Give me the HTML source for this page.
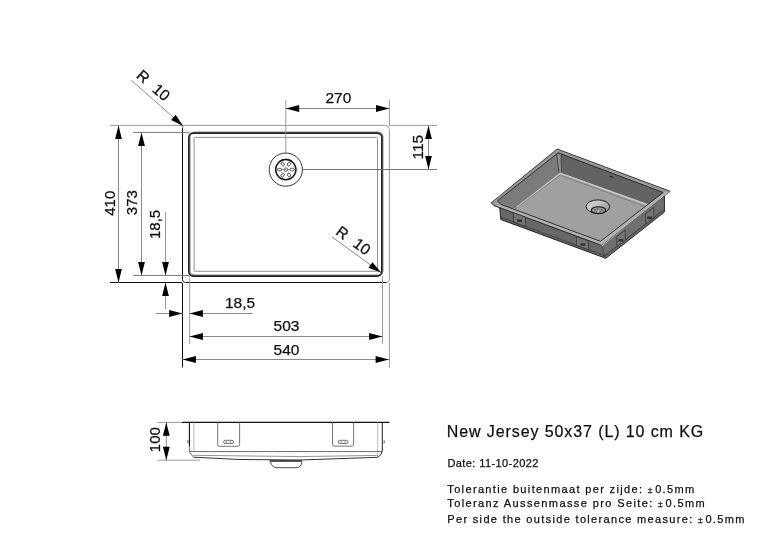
<!DOCTYPE html>
<html><head><meta charset="utf-8">
<style>
html,body{margin:0;padding:0;background:#fff;width:773px;height:537px;overflow:hidden}
svg{display:block;will-change:transform}
text{font-family:"Liberation Sans",sans-serif;fill:#111;stroke:#111;stroke-width:0.25px}
.d{stroke:#8a8a8a;stroke-width:1;fill:none}
.e{stroke:#9a9a9a;stroke-width:1;fill:none}
.k{stroke:#111;stroke-width:1;fill:none}
.a{fill:#000;stroke:none}
</style></head>
<body>
<svg width="773" height="537" viewBox="0 0 773 537">
<defs>
<path id="ar" d="M0 0 L13.4 -3.4 L13.4 3.4 Z"/>
</defs>

<!-- ===== Top view ===== -->
<!-- outer rim -->
<path d="M182.5 128 Q182.5 125.4 185 125.4 H385.4 Q389.4 125.4 389.4 129.4 V279.5 Q389.4 282.5 386.4 282.5" fill="none" stroke="#999" stroke-width="1"/>
<path d="M182.5 128 V279.5 Q182.5 282.5 185.5 282.5 H386.4" fill="none" stroke="#111" stroke-width="1"/>
<!-- bowl thick outline -->
<rect x="189.9" y="132.1" width="192.9" height="143" rx="4.5" fill="none" stroke="#8a8a8a" stroke-width="1.4"/>
<rect x="188.8" y="133.1" width="193" height="143" rx="4.5" fill="none" stroke="#222" stroke-width="1.6"/>
<!-- bowl inner thin -->
<rect x="194.1" y="137.4" width="183.4" height="133.9" rx="1" fill="none" stroke="#8f8f8f" stroke-width="1"/>
<!-- extension lines -->
<path class="e" d="M110 125.4 H182"/>
<path d="M133 132.4 H189.5 M133 275.4 H189.5" stroke="#6a6a6a" stroke-width="0.9" fill="none"/>
<path d="M110 282.5 H182 M182.5 283 V367.5" stroke="#111" fill="none"/>
<path class="e" d="M189.7 276 V344 M382.5 276 V343.6 M389.4 283 V367.8"/>
<path class="e" d="M285.8 100 V152.6 M389.4 100 V125 M389 125.4 H437"/>
<path class="e" d="M165.5 212 V275 M165.5 283 V309.3"/>
<path d="M302.6 169.5 H437" stroke="#666" stroke-width="0.9" fill="none"/>

<!-- dimension lines -->
<path class="d" d="M118.5 125.5 V282.5 M141.5 132.5 V275.5 M155.9 313.5 H182.5 M189.5 313.5 H252.6 M189.5 336.5 H382.5 M182.5 359.5 H389 M285.8 108.5 H389.4 M428.5 125.5 V169.5"/>
<!-- arrows -->
<g class="a">
<use href="#ar" transform="translate(118.5 125.5) rotate(90)"/>
<use href="#ar" transform="translate(118.5 282.5) rotate(-90)"/>
<use href="#ar" transform="translate(141.5 132.5) rotate(90)"/>
<use href="#ar" transform="translate(141.5 275.5) rotate(-90)"/>
<use href="#ar" transform="translate(165.5 275.5) rotate(-90)"/>
<use href="#ar" transform="translate(165.5 282.5) rotate(90)"/>
<use href="#ar" transform="translate(182.5 313.5) rotate(180)"/>
<use href="#ar" transform="translate(189.5 313.5)"/>
<use href="#ar" transform="translate(189.5 336.5)"/>
<use href="#ar" transform="translate(382.5 336.5) rotate(180)"/>
<use href="#ar" transform="translate(182.5 359.5)"/>
<use href="#ar" transform="translate(389 359.5) rotate(180)"/>
<use href="#ar" transform="translate(285.8 108.5)"/>
<use href="#ar" transform="translate(389.4 108.5) rotate(180)"/>
<use href="#ar" transform="translate(428.5 125.5) rotate(90)"/>
<use href="#ar" transform="translate(428.5 169.5) rotate(-90)"/>
</g>

<!-- R10 leaders -->
<path class="d" d="M131.3 80.2 L183.4 126.3"/>
<use href="#ar" class="a" transform="translate(183.4 126.3) rotate(221.5)"/>
<path class="d" d="M331.9 236.8 L381.3 272.8"/>
<use href="#ar" class="a" transform="translate(381.3 272.8) rotate(216)"/>

<!-- drain -->
<g transform="translate(285.8 169.6)">
<circle r="16.6" fill="#fff" stroke="#333" stroke-width="1"/>
<circle r="10.1" fill="#fff" stroke="#1a1a1a" stroke-width="1.5"/>
<path d="M-6 -8.3 A10.1 10.1 0 0 1 6 -8.3" fill="none" stroke="#111" stroke-width="1.2"/>
<g fill="none" stroke="#333" stroke-width="0.8">
<circle r="1.8"/>
<rect x="4.3" y="-1.35" width="4" height="2.7" rx="1.3" transform="rotate(0)"/>
<rect x="4.3" y="-1.35" width="4" height="2.7" rx="1.3" transform="rotate(60)"/>
<rect x="4.3" y="-1.35" width="4" height="2.7" rx="1.3" transform="rotate(120)"/>
<rect x="4.3" y="-1.35" width="4" height="2.7" rx="1.3" transform="rotate(180)"/>
<rect x="4.3" y="-1.35" width="4" height="2.7" rx="1.3" transform="rotate(240)"/>
<rect x="4.3" y="-1.35" width="4" height="2.7" rx="1.3" transform="rotate(300)"/>
<path d="M-10 0 H-8.3 M-4.3 0 H-1.8 M1.8 0 H4.3 M8.3 0 H10" stroke="#555" stroke-width="0.7"/>
</g>
<circle r="0.6" fill="#333"/>
</g>

<!-- dimension texts -->
<g font-size="15.5">
<text x="325.5" y="103">270</text>
<text x="225" y="307.7">18,5</text>
<text x="273.6" y="330.5">503</text>
<text x="273.6" y="354.7">540</text>
<text font-size="15" transform="translate(114.6 215.8) rotate(-90)">410</text>
<text font-size="15" transform="translate(136.8 215.2) rotate(-90)">373</text>
<text font-size="15" transform="translate(160.2 239) rotate(-90)">18,5</text>
<text transform="translate(422.8 159.5) rotate(-90)">115</text>
<text font-size="15" transform="translate(160 452.2) rotate(-90)">100</text>
<text transform="translate(135.4 77.1) rotate(41)">R</text>
<text transform="translate(151.3 90.7) rotate(41)">10</text>
<text transform="translate(334.8 233.7) rotate(36)">R</text>
<text transform="translate(351.9 245.65) rotate(36)">10</text>
</g>

<!-- ===== Side view ===== -->
<path class="e" d="M157.7 422.4 H182 M157.7 460.2 H200"/>
<path class="d" d="M166.3 422.4 V460.2"/>
<use href="#ar" class="a" transform="translate(166.3 422.4) rotate(90)"/>
<use href="#ar" class="a" transform="translate(166.3 460.2) rotate(-90)"/>
<path d="M182 422.4 H389.5" stroke="#111" stroke-width="1.2" fill="none"/>
<g fill="none" stroke-linejoin="round">
<path d="M189.4 422.4 V446" stroke="#111" stroke-width="1.1"/>
<path d="M189.4 446 V452 L193.5 457.2" stroke="#666" stroke-width="0.9"/>
<path d="M382.3 422.4 V449 Q382.3 455 377.5 457.3" stroke="#222" stroke-width="1"/>
<path d="M193.9 422.4 V451.2 M377.7 422.4 V457" stroke="#aaa" stroke-width="0.8"/>
<path d="M189.4 451.6 H382.3" stroke="#444" stroke-width="0.8"/>
<path d="M193 455.3 L300 456.6 L377.7 455.4" stroke="#777" stroke-width="0.8"/>
<path d="M193.5 457.2 L240 459.5 L300 460 L377.5 457.3" stroke="#333" stroke-width="1"/>
<path d="M217.7 422.4 V444.6 Q217.7 446.3 219.4 446.3 H237.9 Q239.6 446.3 239.6 444.6 V422.4" stroke="#666" stroke-width="0.9"/>
<rect x="223.6" y="440.3" width="10" height="3.2" rx="1.6" fill="#eee" stroke="#555" stroke-width="0.8"/>
<path d="M226.6 440.3 V443.5 M230.6 440.3 V443.5" stroke="#888" stroke-width="0.7"/>
<path d="M332.5 422.4 V444.4 Q332.5 446.1 334.2 446.1 H351.9 Q353.6 446.1 353.6 444.4 V422.4" stroke="#666" stroke-width="0.9"/>
<rect x="338.2" y="440.3" width="9.8" height="3.2" rx="1.6" fill="#eee" stroke="#555" stroke-width="0.8"/>
<path d="M341.2 440.3 V443.5 M345 440.3 V443.5" stroke="#888" stroke-width="0.7"/>
<path d="M269.5 461 H302.1" stroke="#222" stroke-width="1.6"/>
<path d="M270.5 462 Q272 467.7 277 467.7 H296 Q301 467.7 302 462" stroke="#333" stroke-width="0.9"/>
<path d="M188.2 440.2 Q187.2 441.7 188.2 443.2 M383.9 440.3 Q384.9 441.8 383.9 443.4" stroke="#444" stroke-width="0.9"/>
</g>

<!-- ===== 3D view (approx) ===== -->
<g id="iso" stroke-linejoin="round">
<!-- outer wall front-left and front-right -->
<polygon points="499.3,205 500.8,219.5 605.8,258.3 602,246" fill="#686868"/>
<polygon points="602,246 605.8,258.3 664.4,212 664.4,195.5" fill="#707070"/>
<path d="M499.6 206 L500.8 219.5 L605.8 258.3 L664.4 212 V196" fill="none" stroke="#222" stroke-width="1"/>
<path d="M501 217.3 L605 255.8 L663.5 210" stroke="#4a4a4a" stroke-width="1.3" fill="none"/>
<path d="M602 246 L605.8 258.3" stroke="#3a3a3a" stroke-width="0.8" fill="none"/>
<!-- rim -->
<polygon points="491.1,202.9 557.2,149.0 670.2,191.3 601.5,245.3 494,205.5" fill="#9a9a9a" stroke="#2a2a2a" stroke-width="0.9"/>
<!-- front light band -->
<polygon points="494,205.5 601.5,245.3 670.2,191.3 663.2,192.5 600.5,241.3 501,204.5" fill="#b2b2b2"/>
<!-- opening (floor colour) -->
<polygon points="497.5,200.8 558.1,152.8 663.2,192.5 600.5,241.3 501,204.5" fill="#a0a0a0"/>
<!-- back-left wall -->
<polygon points="497.5,200.8 558.1,152.8 560.7,172.8 516,207.8 512,208.6 501,204.5" fill="#7b7b7b"/>
<!-- back-right wall -->
<polygon points="558.1,152.8 663.2,192.5 648,204.4 560.7,172.8" fill="#636363"/>
<path d="M516.5 207.6 L560.5 173.4 L647.6 204.8" stroke="#cacaca" stroke-width="1.5" fill="none"/>
<path d="M515 209.2 L560 175" stroke="#5a5a5a" stroke-width="0.6" fill="none"/>
<path d="M560.7 175.4 L645.5 206.6" stroke="#6a6a6a" stroke-width="0.6" fill="none"/>
<path d="M501 204.5 L497.5 200.8 L558.1 152.8 L663.2 192.5 L600.5 241.3 Z" stroke="#222" stroke-width="0.9" fill="none"/>
<polygon points="556.6,154 561,154.6 561.6,172.6 559,172.6" fill="#8e8e8e"/>
<path d="M556.6 154 L559 172.3 M561 154.6 L561.6 172.3" stroke="#333" stroke-width="0.7" fill="none"/>
<path d="M494 205.5 L601.5 245.3" stroke="#2a2a2a" stroke-width="0.9" fill="none"/>
<!-- overflow -->
<path d="M609.5 176 l4 1.5" stroke="#222" stroke-width="1.3"/>
<!-- drain -->
<defs><linearGradient id="dg" x1="0" y1="0" x2="1" y2="0.6"><stop offset="0" stop-color="#cfcfcf"/><stop offset="0.5" stop-color="#c6c6c6"/><stop offset="1" stop-color="#9c9c9c"/></linearGradient></defs>
<ellipse cx="597.9" cy="206.6" rx="11.8" ry="6.7" fill="url(#dg)" stroke="#1e1e1e" stroke-width="1"/>
<ellipse cx="598.5" cy="210.2" rx="7.2" ry="3.5" fill="#9a9a9a" stroke="#111" stroke-width="1.1"/>
<g fill="#333"><circle cx="595" cy="210" r="0.7"/><circle cx="598" cy="209" r="0.7"/><circle cx="601.5" cy="210" r="0.7"/><circle cx="596.5" cy="212" r="0.7"/><circle cx="600" cy="212" r="0.7"/><circle cx="603.5" cy="211.8" r="0.6"/><circle cx="593" cy="211.8" r="0.6"/></g>
<circle cx="598.4" cy="211" r="0.8" fill="#eee"/>
<!-- clips -->
<g fill="#747474" stroke="#2e2e2e" stroke-width="0.7">
<polygon points="513.2,212.6 525.5,217.2 525.8,226.6 513.4,222"/>
<polygon points="576.5,236.6 588.4,241 588.6,249.8 576.7,245.4"/>
<polygon points="616.8,236.6 625.2,230 625.4,240.4 617,246.8"/>
<polygon points="645.4,214 653.8,207.5 654,217.8 645.6,224.3"/>
</g>
<g fill="#333">
<rect x="517" y="219.5" width="5" height="2.5"/>
<rect x="580.5" y="243.3" width="5" height="2.5"/>
<rect x="618.5" y="239" width="5" height="2.5"/>
<rect x="647.2" y="216.5" width="5" height="2.5"/>
</g>
</g>

<!-- ===== Texts ===== -->
<text x="446.8" y="436.7" font-size="16" letter-spacing="0.9">New Jersey 50x37 (L) 10 cm KG</text>
<text x="447.5" y="466.9" font-size="11" letter-spacing="0.4">Date: 11-10-2022</text>
<g font-size="11" letter-spacing="1.3">
<text x="447.3" y="492.5" letter-spacing="1.35">Tolerantie buitenmaat per zijde: <tspan font-size="8.5" letter-spacing="2.7">±</tspan>0.5mm</text>
<text x="447.3" y="507.4" letter-spacing="1.39">Toleranz Aussenmasse pro Seite: <tspan font-size="8.5" letter-spacing="2.7">±</tspan>0.5mm</text>
<text x="447.3" y="522.5" letter-spacing="1.33">Per side the outside tolerance measure: <tspan font-size="8.5" letter-spacing="2.7">±</tspan>0.5mm</text>
</g>
</svg>
</body></html>
